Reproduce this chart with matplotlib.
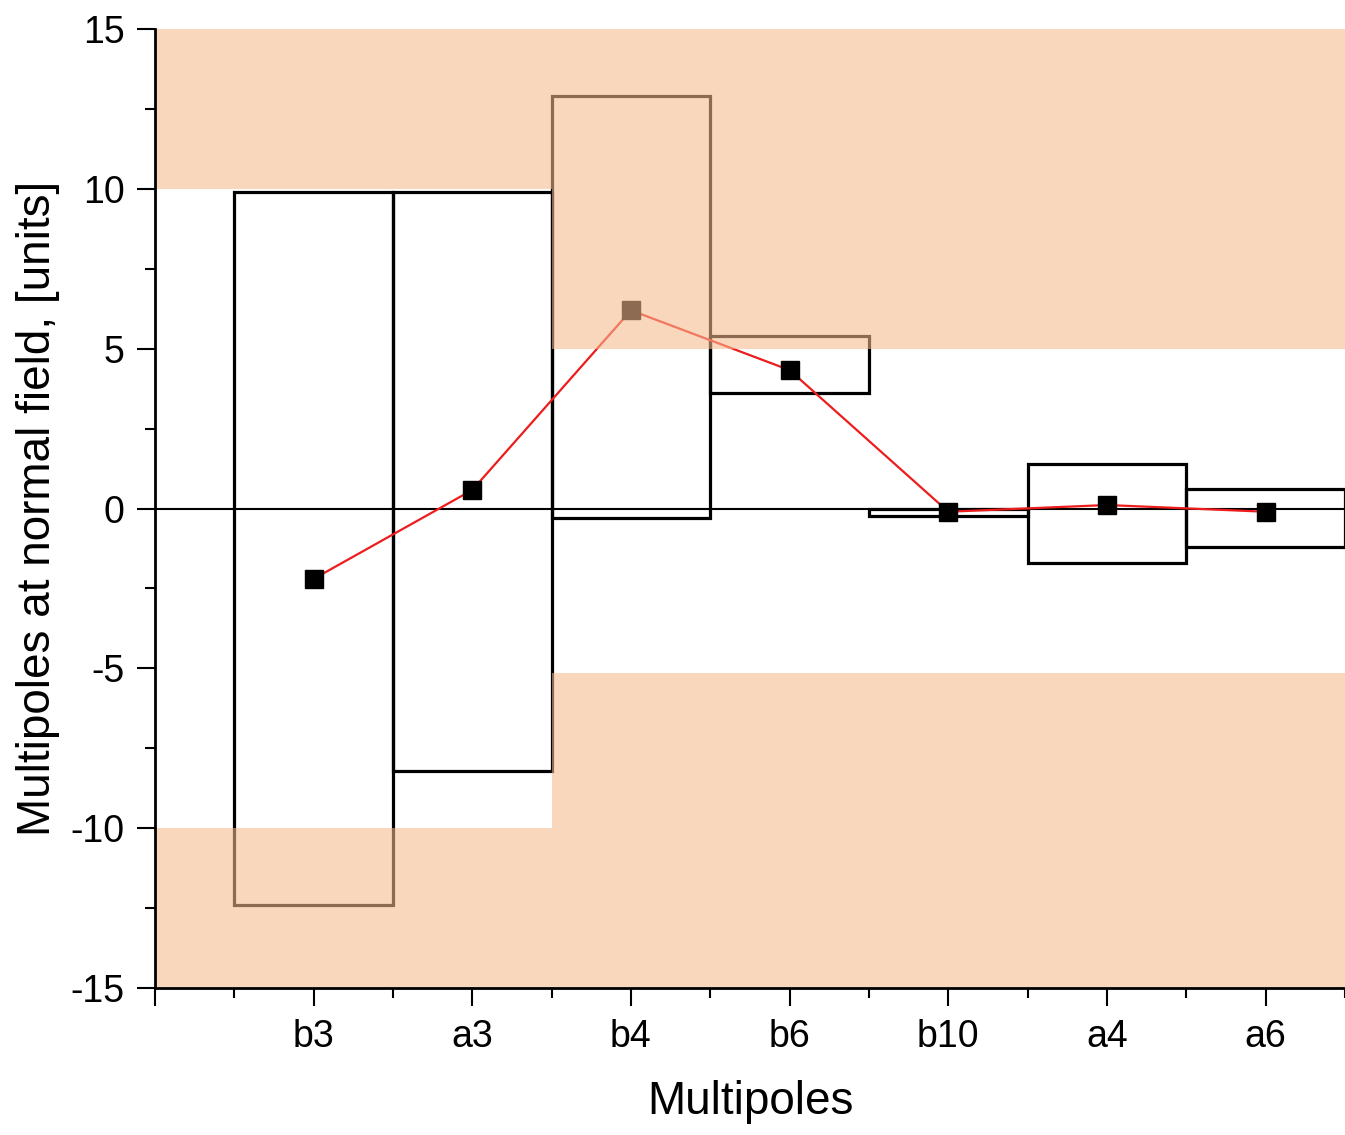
import matplotlib
matplotlib.use("Agg")
import matplotlib.pyplot as plt
from matplotlib.patches import Rectangle
from matplotlib.ticker import MultipleLocator

plt.rcParams['font.family'] = ['Liberation Sans', 'DejaVu Sans']
plt.rcParams['axes.unicode_minus'] = False

# multipole names and measured values
names = ["b3", "a3", "b4", "b6", "b10", "a4", "a6"]
box_low = [-12.4, -8.2, -0.3, 3.6, -0.22, -1.7, -1.2]
box_high = [9.9, 9.9, 12.9, 5.4, -0.02, 1.4, 0.6]
means = [-2.2, 0.58, 6.2, 4.33, -0.1, 0.11, -0.1]

# tolerance bands: (x start, x end, limit)
band_x = [0, 2.5, 7.5]
upper_limit = [10, 5]
lower_limit = [-10, -5.15]

fig = plt.figure(figsize=(13.45, 11.35), dpi=100)
ax = fig.add_axes([0.1152, 0.1295, 0.8848, 0.8449])

xs = list(range(1, len(names) + 1))

for x, lo, hi in zip(xs, box_low, box_high):
    ax.add_patch(Rectangle((x - 0.5, lo), 1.0, hi - lo, fill=False,
                           edgecolor="black", linewidth=2.3, zorder=2))

ax.axhline(0, color="black", linewidth=1.5, zorder=1)
ax.plot(xs, means, color="#ee1c1c", linewidth=1.6, marker="s",
        markersize=13, markerfacecolor="black", markeredgecolor="black",
        zorder=3)

# shaded out-of-tolerance regions drawn on top
shade = "#f4ba8e"
for i in range(len(upper_limit)):
    ax.fill_between([band_x[i], band_x[i + 1]], upper_limit[i], 15,
                    color=shade, alpha=0.58, linewidth=0, zorder=4)
    ax.fill_between([band_x[i], band_x[i + 1]], -15, lower_limit[i],
                    color=shade, alpha=0.58, linewidth=0, zorder=4)

ax.set_xlim(0, 7.5)
ax.set_ylim(-15, 15)
ax.set_xticks(range(0, 8))
ax.set_xticklabels([""] + names)
ax.xaxis.set_minor_locator(MultipleLocator(0.5))
ax.yaxis.set_major_locator(MultipleLocator(5))
ax.yaxis.set_minor_locator(MultipleLocator(2.5))

ax.spines["top"].set_visible(False)
ax.spines["right"].set_visible(False)
for s in ["left", "bottom"]:
    ax.spines[s].set_linewidth(2)
    ax.spines[s].set_zorder(5)

ax.tick_params(which="major", direction="out", length=13, width=1.5,
               labelsize=27, pad=9)
ax.tick_params(which="minor", direction="out", length=7, width=1.5)

ax.set_xlabel("Multipoles", fontsize=33, labelpad=18)
ax.set_ylabel("Multipoles at normal field, [units]", fontsize=33)
ax.yaxis.set_label_coords(-0.08, 0.5)

fig.savefig("out.png", dpi=100)
